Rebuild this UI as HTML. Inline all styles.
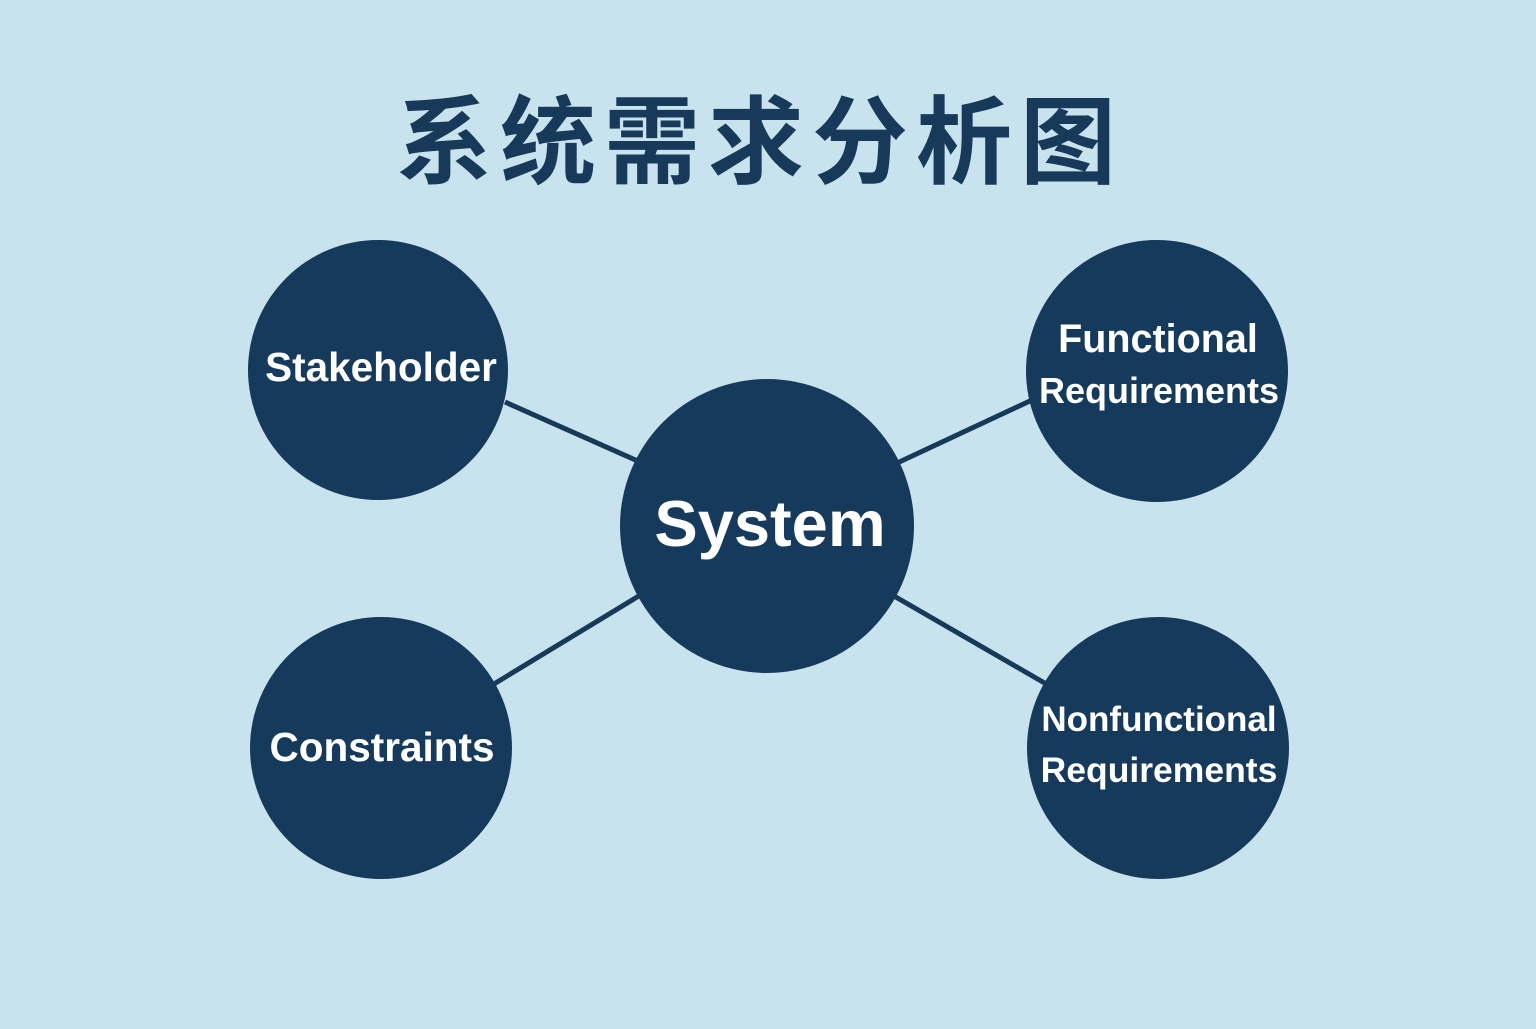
<!DOCTYPE html>
<html><head><meta charset="utf-8"><style>
html,body{margin:0;padding:0;}
body{width:1536px;height:1024px;background:#c9e3ee;overflow:hidden;}
</style></head><body>
<svg width="1536" height="1024" xmlns="http://www.w3.org/2000/svg">
<rect width="1536" height="1024" fill="#c9e3ee"/>
<text x="760" y="176" text-anchor="middle" font-family="'Liberation Sans','Noto Sans CJK SC',sans-serif" font-weight="bold" font-size="96" letter-spacing="8" fill="#173a5a">系统需求分析图</text>
<g stroke="#173a5a" stroke-width="5">
<line x1="505" y1="402" x2="640" y2="462"/>
<line x1="895" y1="464" x2="1032" y2="400"/>
<line x1="494" y1="684" x2="642" y2="594"/>
<line x1="894" y1="596" x2="1048" y2="685"/>
</g>
<g fill="#163a5c">
<circle cx="378" cy="370" r="130"/>
<circle cx="1157" cy="371" r="131"/>
<circle cx="767" cy="526" r="147"/>
<circle cx="381" cy="748" r="131"/>
<circle cx="1158" cy="748" r="131"/>
</g>
<g fill="#fff" font-family="'Liberation Sans',sans-serif" text-anchor="middle" font-weight="bold">
<text x="381" y="381" font-size="40.5">Stakeholder</text>
<text x="1158" y="352" font-size="39.5">Functional</text>
<text x="1159" y="403" font-size="36">Requirements</text>
<text x="770" y="546" font-size="65">System</text>
<text x="382" y="761" font-size="40.5">Constraints</text>
<text x="1159" y="731" font-size="35">Nonfunctional</text>
<text x="1159" y="782" font-size="35.5">Requirements</text>
</g>
</svg>
</body></html>
